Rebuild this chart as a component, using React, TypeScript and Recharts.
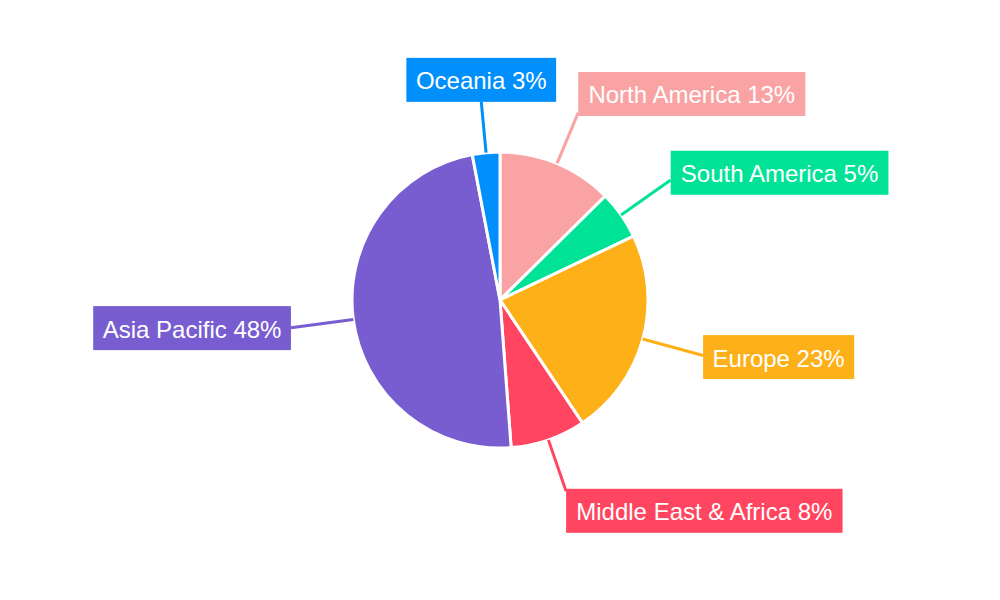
import { Cell, Pie, PieChart } from "recharts";

const REGIONS = ["North America", "South America", "Europe", "Middle East & Africa", "Asia Pacific", "Oceania"];
const SHARES = [12.6, 5.3, 22.7, 8.2, 48.2, 3.0];
const COLORS = ["#F9A3A4", "#00E396", "#FEB019", "#FF4560", "#775DD0", "#008FFB"];

const data = REGIONS.map((name, i) => ({ name, value: SHARES[i] }));

const FONT = "'Liberation Sans', Arial, sans-serif";
const FONT_SIZE = 24;
const RADIAN = Math.PI / 180;

let ctx: CanvasRenderingContext2D | null = null;
function textWidth(s: string) {
  if (!ctx) ctx = document.createElement("canvas").getContext("2d");
  if (!ctx) return s.length * FONT_SIZE * 0.55;
  ctx.font = `${FONT_SIZE}px ${FONT}`;
  return ctx.measureText(s).width;
}

function renderLabel(props: any) {
  const { cx, cy, midAngle, outerRadius, percent, name, index } = props;
  const color = COLORS[index % COLORS.length];
  const dx = Math.cos(midAngle * RADIAN);
  const dy = -Math.sin(midAngle * RADIAN);
  const sx = cx + outerRadius * dx;
  const sy = cy + outerRadius * dy;
  const rEnd = outerRadius + 50 + 13 * Math.abs(dx);
  const ex = cx + rEnd * dx;
  const ey = cy + rEnd * dy;

  const text = `${name} ${Math.round(percent * 100)}%`;
  const w = textWidth(text) + 19;
  const h = 44;
  const hf = Math.min(1, Math.max(0, (Math.abs(dx) - 0.1) / 0.2)) * Math.sign(dx);
  const bx = ex + (hf * w) / 2 - w / 2;
  const by = ey + (Math.sign(dy) * dy * dy * h) / 2 - h / 2;

  return (
    <g key={`lbl-${index}`}>
      <line x1={sx} y1={sy} x2={ex} y2={ey} stroke={color} strokeWidth={3} />
      <rect x={bx} y={by} width={w} height={h} fill={color} />
      <text
        x={bx + w / 2}
        y={by + h / 2 + 1}
        textAnchor="middle"
        dominantBaseline="central"
        fill="#fff"
        fontSize={FONT_SIZE}
        fontFamily={FONT}
      >
        {text}
      </text>
    </g>
  );
}

export default function App() {
  return (
    <div style={{ position: "absolute", left: 0, top: 0, background: "#fff" }}>
      <PieChart width={1000} height={600} margin={{ top: 0, right: 0, bottom: 0, left: 0 }}>
        <Pie
          data={data}
          dataKey="value"
          nameKey="name"
          cx={500}
          cy={300}
          outerRadius={148}
          startAngle={90}
          endAngle={-270}
          stroke="#fff"
          strokeWidth={3}
          label={renderLabel}
          labelLine={false}
          isAnimationActive={false}
        >
          {data.map((_, index) => (
            <Cell key={index} fill={COLORS[index % COLORS.length]} />
          ))}
        </Pie>
      </PieChart>
    </div>
  );
}
